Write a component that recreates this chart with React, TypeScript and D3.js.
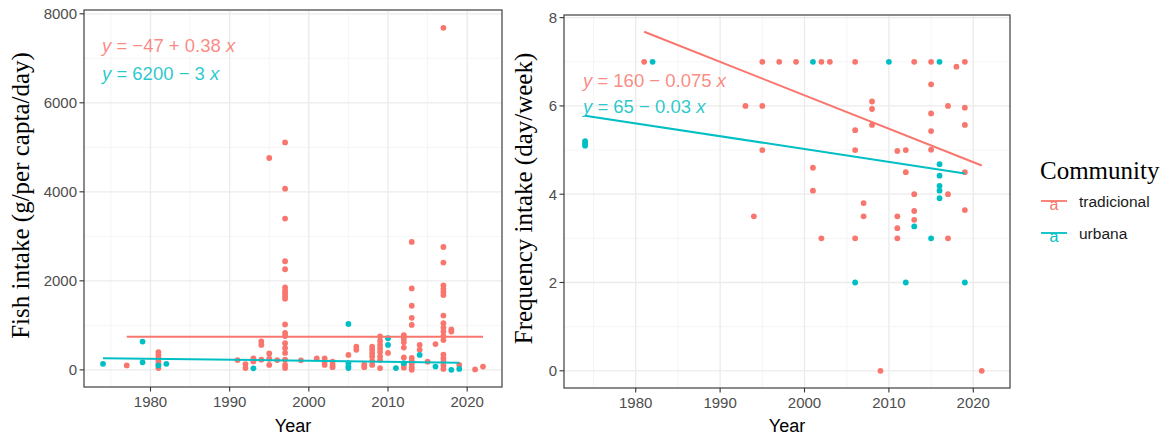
import React from 'react';
import * as d3 from 'd3';

// colours used by ggplot for two groups
const RED = '#F8766D';
const CYAN = '#00BFC4';

const communities = ['tradicional', 'urbana'];
const xTicks = [1980, 1990, 2000, 2010, 2020];
const xMinor = [1975, 1985, 1995, 2005, 2015];
const fishTicks = [0, 2000, 4000, 6000, 8000];
const fishMinor = [1000, 3000, 5000, 7000];
const freqTicks = [0, 2, 4, 6, 8];
const freqMinor = [1, 3, 5, 7];

// [year, fish intake g/per capta/day]
const fishTradicional = [
  [1977, 100],
  [1981, 400], [1981, 330], [1981, 260], [1981, 190], [1981, 120], [1981, 40],
  [1991, 220], [1992, 130], [1992, 40], [1993, 260], [1993, 190],
  [1994, 640], [1994, 560], [1994, 230],
  [1995, 4760], [1995, 370], [1995, 250], [1995, 110], [1996, 220],
  [1997, 5110], [1997, 4070], [1997, 3400], [1997, 2440], [1997, 2260], [1997, 1850], [1997, 1780],
  [1997, 1720], [1997, 1660], [1997, 1600], [1997, 1020], [1997, 830], [1997, 760], [1997, 600],
  [1997, 490], [1997, 380], [1997, 230], [1997, 110], [1997, 40],
  [1999, 215], [2001, 255], [2002, 255], [2002, 185], [2002, 110],
  [2003, 185], [2003, 110], [2003, 60], [2005, 335], [2006, 520], [2006, 450],
  [2007, 115], [2007, 60],
  [2008, 520], [2008, 450], [2008, 380], [2008, 300], [2008, 200], [2008, 110],
  [2009, 750], [2009, 650], [2009, 560], [2009, 480], [2009, 400], [2009, 300], [2009, 220], [2009, 40],
  [2010, 380],
  [2012, 780], [2012, 700], [2012, 620], [2012, 500], [2012, 280], [2012, 120], [2012, 50],
  [2013, 2875], [2013, 1830], [2013, 1440], [2013, 1170], [2013, 1010], [2013, 270], [2013, 200],
  [2013, 130], [2013, 60], [2013, 0],
  [2014, 560], [2014, 450], [2015, 185], [2016, 580],
  [2017, 7685], [2017, 2760], [2017, 2410], [2017, 1900], [2017, 1820], [2017, 1750], [2017, 1680],
  [2017, 1220], [2017, 1050], [2017, 950], [2017, 860], [2017, 760], [2017, 670], [2017, 340],
  [2017, 260], [2017, 180], [2017, 100], [2017, 20],
  [2018, 910], [2018, 860], [2019, 110], [2021, 10], [2022, 75],
];

const fishUrbana = [
  [1974, 135], [1979, 635], [1979, 170], [1981, 100], [1982, 135], [1993, 35],
  [2005, 1030], [2005, 150], [2005, 80], [2005, 40], [2010, 710], [2010, 560],
  [2011, 40], [2012, 150], [2014, 335], [2016, 75], [2018, 0], [2019, 20],
];

// [year, frequency day/week]
const freqTradicional = [
  [1981, 7], [1993, 6], [1994, 3.5], [1995, 7], [1995, 6], [1995, 5],
  [1997, 7], [1999, 7], [2001, 4.6], [2001, 4.08], [2002, 7], [2002, 3], [2003, 7],
  [2006, 7], [2006, 5.45], [2006, 5], [2006, 3], [2007, 3.8], [2007, 3.5],
  [2008, 6.1], [2008, 5.93], [2008, 5.57], [2009, 0],
  [2011, 4.98], [2011, 3.5], [2011, 3.23], [2011, 3], [2012, 5], [2012, 4.5],
  [2013, 7], [2013, 4], [2013, 3.62], [2013, 3.42],
  [2015, 7], [2015, 6.49], [2015, 5.83], [2015, 5.43], [2015, 5.01],
  [2017, 6], [2017, 4], [2017, 3], [2018, 6.89],
  [2019, 7], [2019, 5.96], [2019, 5.57], [2019, 4.5], [2019, 3.64], [2021, 0],
];

const freqUrbana = [
  [1974, 5.2], [1974, 5.15], [1974, 5.1], [1982, 7], [2001, 7], [2006, 2], [2010, 7],
  [2012, 2], [2013, 3.27], [2015, 3], [2016, 7], [2016, 4.68], [2016, 4.42],
  [2016, 4.19], [2016, 4.08], [2016, 3.91], [2019, 2],
];

// fitted lines (start, end)
const fishFitTradicional = [[1977, 745], [2022, 745]];
const fishFitUrbana = [[1974, 262], [2019, 162]];
const freqFitTradicional = [[1981, 7.68], [2021, 4.65]];
const freqFitUrbana = [[1974, 5.78], [2019, 4.47]];

const fishEquations = [
  ['y', ' = \u221247 + 0.38 ', 'x'],
  ['y', ' = 6200 \u2212 3 ', 'x'],
];
const freqEquations = [
  ['y', ' = 160 \u2212 0.075 ', 'x'],
  ['y', ' = 65 \u2212 0.03 ', 'x'],
];

const SANS = 'Liberation Sans, Arial, sans-serif';
const SERIF = 'Liberation Serif, Times New Roman, serif';

const Panel = ({ left, right, top, bottom, xDomain, yDomain, yTicks, yMinor, title, titleGap, series, fits, equations, eqX, eqY }) => {
  const x = d3.scaleLinear().domain(xDomain).range([left, right]);
  const y = d3.scaleLinear().domain(yDomain).range([bottom, top]);
  const line = d3.line().x((d) => x(d[0])).y((d) => y(d[1]));
  const colors = [RED, CYAN];
  return (
    <g>
      <rect x={left} y={top} width={right - left} height={bottom - top} fill="white" />
      {/* minor grid */}
      {xMinor.map((t) => (
        <line key={'xm' + t} x1={x(t)} x2={x(t)} y1={top} y2={bottom} stroke="#F2F2F2" strokeWidth={0.8} />
      ))}
      {yMinor.map((t) => (
        <line key={'ym' + t} x1={left} x2={right} y1={y(t)} y2={y(t)} stroke="#F2F2F2" strokeWidth={0.8} />
      ))}
      {/* major grid */}
      {xTicks.map((t) => (
        <line key={'xg' + t} x1={x(t)} x2={x(t)} y1={top} y2={bottom} stroke="#EBEBEB" strokeWidth={1.3} />
      ))}
      {yTicks.map((t) => (
        <line key={'yg' + t} x1={left} x2={right} y1={y(t)} y2={y(t)} stroke="#EBEBEB" strokeWidth={1.3} />
      ))}
      {series.map((pts, i) =>
        pts.map((d, j) => (
          <circle key={i + '-' + j} cx={x(d[0])} cy={y(d[1])} r={2.9} fill={colors[i]} />
        ))
      )}
      {fits.map((f, i) => (
        <path key={'f' + i} d={line(f)} fill="none" stroke={colors[i]} strokeWidth={2} />
      ))}
      {equations.map((eq, i) => (
        <text key={'eq' + i} x={eqX} y={eqY[i]} fill={colors[i]} fillOpacity={0.85} fontSize={18.5} fontFamily={SANS}>
          <tspan fontStyle="italic">{eq[0]}</tspan>
          <tspan>{eq[1]}</tspan>
          <tspan fontStyle="italic">{eq[2]}</tspan>
        </text>
      ))}
      <rect x={left} y={top} width={right - left} height={bottom - top} fill="none" stroke="#4D4D4D" strokeWidth={1.3} />
      {/* axes */}
      {xTicks.map((t) => (
        <g key={'xt' + t}>
          <line x1={x(t)} x2={x(t)} y1={bottom} y2={bottom + 4.5} stroke="#333" strokeWidth={1.1} />
          <text x={x(t)} y={bottom + 20} textAnchor="middle" fontSize={15} fill="#4D4D4D" fontFamily={SANS}>
            {t}
          </text>
        </g>
      ))}
      {yTicks.map((t) => (
        <g key={'yt' + t}>
          <line x1={left - 4.5} x2={left} y1={y(t)} y2={y(t)} stroke="#333" strokeWidth={1.1} />
          <text x={left - 7} y={y(t) + 5.3} textAnchor="end" fontSize={15} fill="#4D4D4D" fontFamily={SANS}>
            {t}
          </text>
        </g>
      ))}
      <text x={(left + right) / 2} y={432} textAnchor="middle" fontSize={18} fill="black" fontFamily={SANS}>
        Year
      </text>
      <text
        transform={`translate(${left - titleGap}, ${(top + bottom) / 2 - 3}) rotate(-90)`}
        textAnchor="middle"
        fontSize={25}
        fill="black"
        fontFamily={SERIF}
      >
        {title}
      </text>
    </g>
  );
};

export default function App() {
  return (
    <svg width={1169} height={439} style={{ position: 'absolute', left: 0, top: 0, background: 'white' }}>
      <rect width={1169} height={439} fill="white" />
      <Panel
        left={84}
        right={502}
        top={10}
        bottom={387}
        xDomain={[1971.6, 2024.4]}
        yDomain={[-385, 8085]}
        yTicks={fishTicks}
        yMinor={fishMinor}
        title="Fish intake (g/per capta/day)"
        titleGap={55}
        series={[fishTradicional, fishUrbana]}
        fits={[fishFitTradicional, fishFitUrbana]}
        equations={fishEquations}
        eqX={102}
        eqY={[52, 80]}
      />
      <Panel
        left={564}
        right={1010}
        top={15}
        bottom={388}
        xDomain={[1971.5, 2024.35]}
        yDomain={[-0.39, 8.06]}
        yTicks={freqTicks}
        yMinor={freqMinor}
        title="Frequency intake (day/week)"
        titleGap={32}
        series={[freqTradicional, freqUrbana]}
        fits={[freqFitTradicional, freqFitUrbana]}
        equations={freqEquations}
        eqX={583}
        eqY={[87, 113]}
      />
      {/* legend */}
      <text x={1040} y={179} fontSize={25} fontFamily={SERIF} fill="black">
        Community
      </text>
      {communities.map((c, i) => (
        <g key={c} transform={`translate(0, ${i * 32})`}>
          <line x1={1041} x2={1067} y1={201} y2={201} stroke={[RED, CYAN][i]} strokeWidth={1.8} />
          <text x={1054} y={209.5} textAnchor="middle" fontSize={16} fontFamily={SANS} fill={[RED, CYAN][i]}>
            a
          </text>
          <text x={1079} y={207} fontSize={15.5} fontFamily={SANS} fill="#1a1a1a">
            {c}
          </text>
        </g>
      ))}
    </svg>
  );
}
